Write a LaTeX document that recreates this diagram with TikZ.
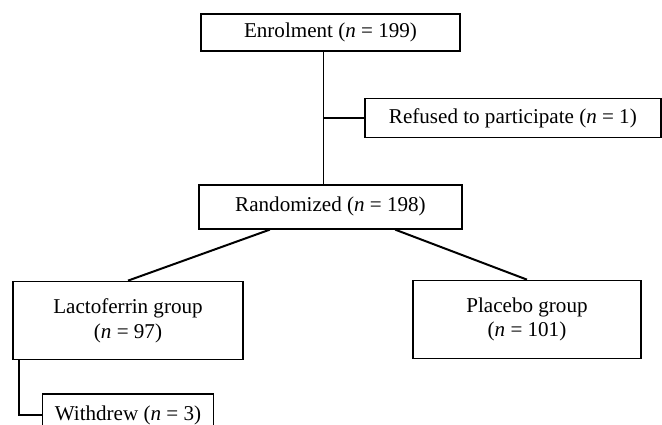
\documentclass[tikz,border=0pt]{standalone}
\usepackage{fontspec}
\setmainfont{Liberation Serif}
\usetikzlibrary{positioning, calc}

\begin{document}
\begin{tikzpicture}[node distance=0mm,
  box/.style={draw, line width=1.5pt, minimum height=11.1mm, align=center, inner sep=0pt, font=\fontsize{18}{21}\selectfont},
  link/.style={line width=1.7pt}]

  \clip (-99.15mm,-117.45mm) rectangle (99.45mm,9.75mm);

  \node[box, minimum width=77.7mm] (enrol) {Enrolment (\textit{n} = 199)};

  \node[box, minimum width=78.9mm, minimum height=13.2mm, below=39.6mm of enrol] (rand) {Randomized (\textit{n} = 198)};

  \coordinate (split) at ($([xshift=-2.1mm]enrol.south)!0.5!([xshift=-2.1mm]rand.north)$);

  \node[box, minimum width=88.8mm, minimum height=11.7mm, right=12.15mm of split] (refused) {Refused to participate (\textit{n} = 1)};

  \node[box, minimum width=69mm, minimum height=23.4mm, below=15.3mm of rand, xshift=-60.75mm] (lacto) {Lactoferrin group\\(\textit{n} = 97)};

  \node[box, minimum width=68.4mm, minimum height=23.4mm, below=15mm of rand, xshift=58.95mm] (placebo) {Placebo group\\(\textit{n} = 101)};

  \node[box, minimum width=51.3mm, minimum height=12.4mm, below=9.9mm of lacto] (withdrew) {Withdrew (\textit{n} = 3)};

  \draw[link] ([xshift=-2.1mm]enrol.south) -- ([xshift=-2.1mm]rand.north);
  \draw[link] (split) -- (refused);
  \draw[link] ([xshift=-18.2mm]rand.south) -- (lacto.north);
  \draw[link] ([xshift=19.4mm]rand.south) -- (placebo.north);
  \draw[link] ([xshift=2.1mm]lacto.south west) |- (withdrew);
\end{tikzpicture}
\end{document}
